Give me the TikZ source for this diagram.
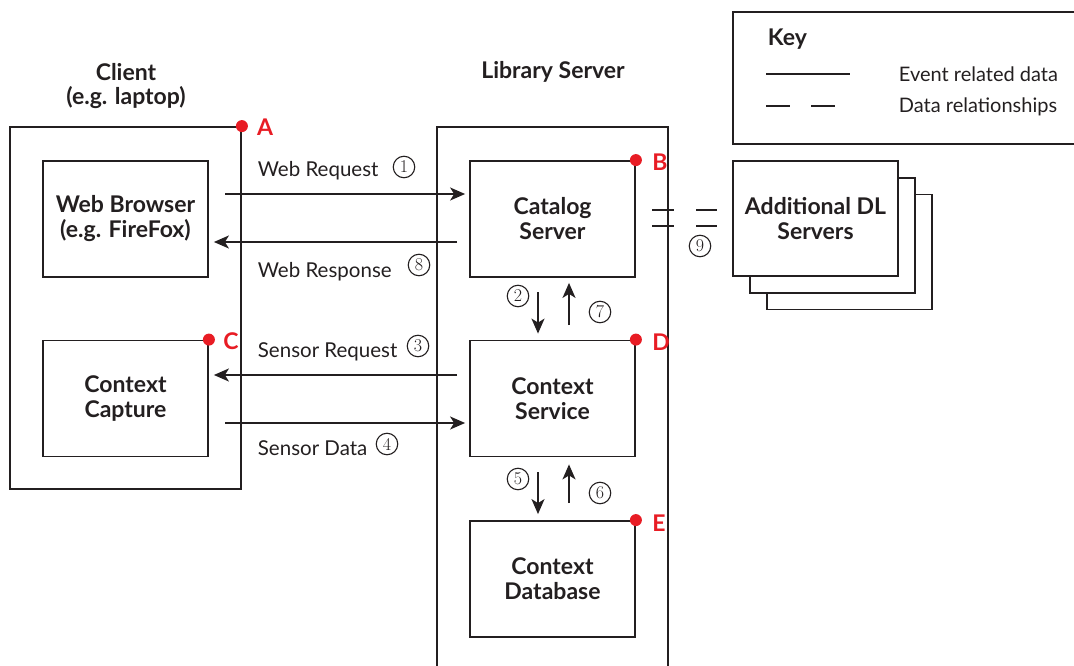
\documentclass[tikz,border=0pt]{standalone}
\usepackage{fontspec}
\setsansfont{Lato}
\usetikzlibrary{arrows.meta}
\definecolor{redmark}{RGB}{232,28,36}
\definecolor{ink}{RGB}{35,31,32}
\begin{document}
\begin{tikzpicture}[x=1pt,y=-1pt, line width=1.8pt, draw=ink,
  box/.style={draw=ink, line width=1.8pt, minimum width=165pt, minimum height=116pt, align=center, inner sep=0pt, text=ink, font=\sffamily\bfseries\fontsize{23}{25}\selectfont},
  frame/.style={draw=ink, line width=1.8pt, inner sep=0pt},
  lbl/.style={anchor=base west, text=ink, inner sep=0pt, font=\sffamily\fontsize{20.5}{22}\selectfont},
  title/.style={text=ink, inner sep=0pt, font=\sffamily\bfseries\fontsize{23}{25}\selectfont},
  num/.style={circle, draw=ink, line width=1.1pt, minimum size=21.5pt, inner sep=0pt, text=ink, font=\rmfamily\fontsize{18}{18}\selectfont},
  arr/.style={draw=ink, line width=1.8pt, -{Stealth[length=15pt,width=13pt,inset=4pt]}},
  reddot/.style={circle, fill=redmark, inner sep=0pt, minimum size=12pt},
  tag/.style={text=redmark, inner sep=0pt, font=\sffamily\bfseries\fontsize{23}{24}\selectfont}]
\path[use as bounding box] (0,0) rectangle (1074,666);
\clip (0,0) rectangle (1074,666);

% outer frames
\node[frame, minimum width=231pt, minimum height=362pt] (client) at (125.5,308) {};
\node[frame, minimum width=231pt, minimum height=593pt] (lib) at (552.5,423.5) {};
\node[frame, minimum width=367pt, minimum height=132pt] (key) at (916.5,78) {};

% titles
\node[title] (tclient) at (126,72) {Client};
\node[title] (tclient2) at (126,98) {(e.g. laptop)};
\node[title] (tlib) at (553,72) {Library Server};

% inner boxes
\node[box] (wb) at (125.5,219) {Web Browser\\(e.g. FireFox)};
\node[box] (cc) at (125.5,398.5) {Context\\Capture};
\node[box] (cat) at (552.5,219) {Catalog\\Server};
\node[box] (cs) at (552.5,398.5) {Context\\Service};
\node[box] (db) at (552.5,579) {Context\\Database};

% additional DL servers stack
\node[box, fill=white, minimum height=115pt] (dl3) at (849.5,252) {};
\node[box, fill=white, minimum height=115pt] (dl2) at (832.5,235.5) {};
\node[box, fill=white, minimum height=115pt] (dl) at (815.5,218.5) {Additional DL\\Servers};

% horizontal arrows
\coordinate (wreq) at (225,194);
\coordinate (wres) at (457,242);
\coordinate (sreq) at (457,375);
\coordinate (sdat) at (225,423);
\draw[arr, shorten >=4pt] (wreq) -- (cat.west |- wreq);
\draw[arr, shorten >=5pt] (wres) -- (wb.east |- wres);
\draw[arr, shorten >=5pt] (sreq) -- (cc.east |- sreq);
\draw[arr, shorten >=4pt] (sdat) -- (cs.west |- sdat);

% vertical arrows
\coordinate (a2) at (538,292);
\coordinate (a7) at (569,325);
\coordinate (a5) at (538,472);
\coordinate (a6) at (569,503);
\draw[arr, shorten >=6pt] (a2) -- (a2 |- cs.north);
\draw[arr, shorten >=5pt] (a7) -- (a7 |- cat.south);
\draw[arr, shorten >=6pt] (a5) -- (a5 |- db.north);
\draw[arr, shorten >=7pt] (a6) -- (a6 |- cs.south);

% labels
\node[lbl] (lwreq) at (257,177) {Web Request};
\node[lbl] (lwres) at (257,277) {Web Response};
\node[lbl] (lsreq) at (257,357) {Sensor Request};
\node[lbl] (lsdat) at (257,455) {Sensor Data};
\node[num] (n1) at (404,167) {1};
\node[num] (n8) at (419,265) {8};
\node[num] (n3) at (418,346) {3};
\node[num] (n4) at (387,444) {4};
\node[num] (n2) at (518,296) {2};
\node[num] (n7) at (600,312) {7};
\node[num] (n5) at (518,479) {5};
\node[num] (n6) at (600,493) {6};
\node[num] (n9) at (700,246) {9};

% data relationship (dashed double line)
\coordinate (r1a) at (652,210);
\coordinate (r1b) at (717,210);
\coordinate (r2a) at (652,226);
\coordinate (r2b) at (717,226);
\draw[dash pattern=on 22pt off 22pt] (r1a) -- (r1b);
\draw[dash pattern=on 22pt off 22pt] (r2a) -- (r2b);

% red markers
\node[reddot] (dA) at (client.north east) {};
\node[reddot] (dB) at (cat.north east) {};
\node[reddot] (dC) at (cc.north east) {};
\node[reddot] (dD) at (cs.north east) {};
\node[reddot] (dE) at (db.north east) {};
\node[tag] (tA) at (265,127) {A};
\node[tag] (tB) at (660,162) {B};
\node[tag] (tC) at (231,341) {C};
\node[tag] (tD) at (661,342) {D};
\node[tag] (tE) at (659,523) {E};

% key
\node[title, anchor=west] (tkey) at (767,39) {Key};
\coordinate (k1a) at (766,74);
\coordinate (k1b) at (850,74);
\coordinate (k2a) at (766,106);
\coordinate (k2b) at (835,106);
\draw (k1a) -- (k1b);
\draw[dash pattern=on 24pt off 21pt] (k2a) -- (k2b);
\node[lbl, anchor=west, font=\sffamily\fontsize{20}{22}\selectfont] (kev) at (898,74) {Event related data};
\node[lbl, anchor=west, font=\sffamily\fontsize{20}{22}\selectfont] (kdr) at (898,107) {Data relationships};
\end{tikzpicture}
\end{document}
